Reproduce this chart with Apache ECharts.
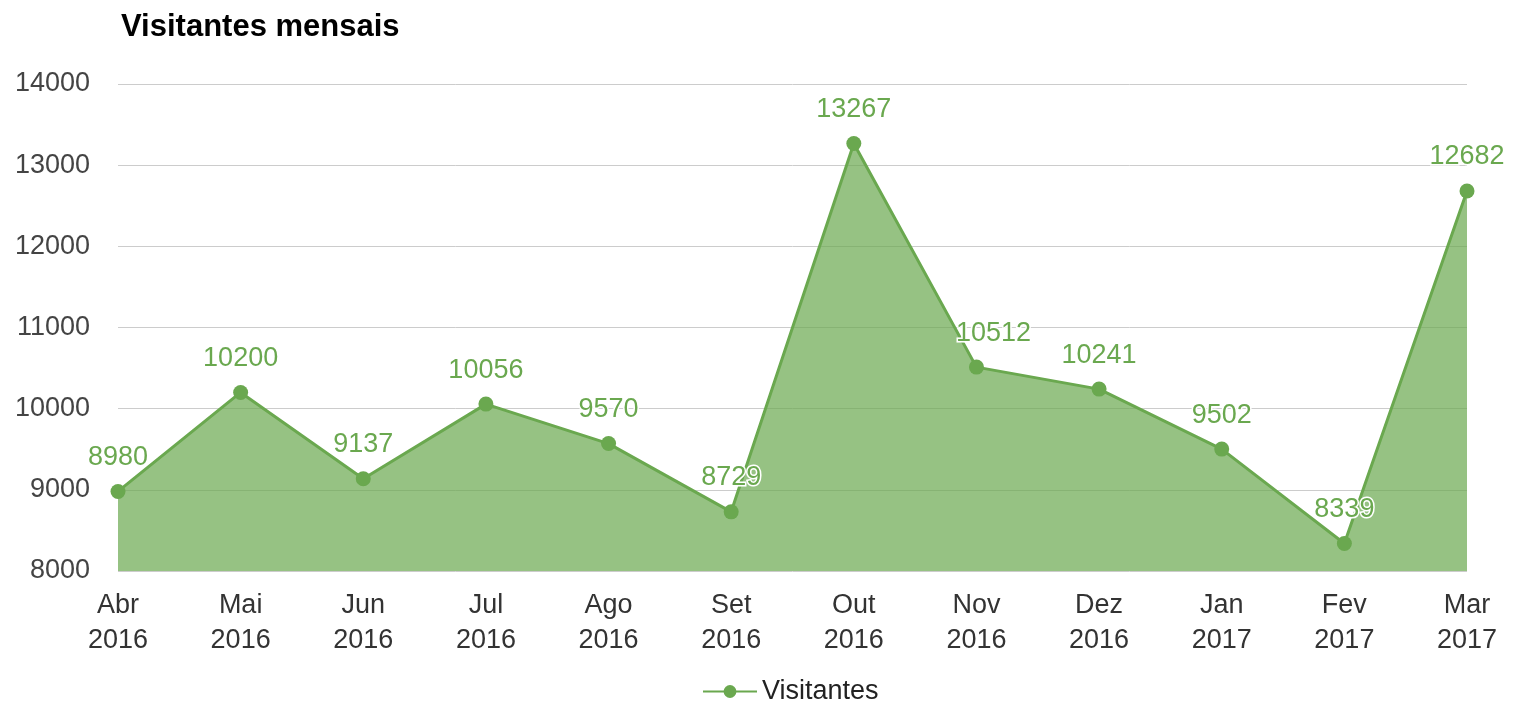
<!DOCTYPE html>
<html><head><meta charset="utf-8">
<script src="https://cdn.jsdelivr.net/npm/echarts@6/dist/echarts.min.js"></script>
<style>html,body{margin:0;padding:0;background:#fff}#c{width:1514px;height:702px}</style>
</head><body><div id="c"></div>
<script>
const months = ['Abr\n2016','Mai\n2016','Jun\n2016','Jul\n2016','Ago\n2016','Set\n2016','Out\n2016','Nov\n2016','Dez\n2016','Jan\n2017','Fev\n2017','Mar\n2017'];
const visitantes = [8980,10200,9137,10056,9570,8729,13267,10512,10241,9502,8339,12682];
const seriesName = 'Visitantes';
const chartTitle = 'Visitantes mensais';
const font = 'Liberation Sans, Arial, sans-serif';
const chart = echarts.init(document.getElementById('c'));
const seriesData = visitantes.map((v, i) => i === 7 ? {value: v, label: {offset: [17, 0]}} : v);
chart.setOption({
  animation:false,
  title:{text:chartTitle,left:116,top:7,textStyle:{fontFamily:font,fontSize:31,fontWeight:'bold',color:'#000'}},
  grid:{left:118,right:47,top:84,bottom:131,containLabel:false},
  legend:{top:673,left:697,itemWidth:54,itemHeight:16,itemGap:12,
    textStyle:{fontFamily:font,fontSize:27,color:'#222'},data:[seriesName]},
  xAxis:{type:'category',boundaryGap:false,data:months,
    axisLine:{show:false},axisTick:{show:false},
    axisLabel:{fontFamily:font,fontSize:27,color:'#333',lineHeight:35,margin:17}},
  yAxis:{type:'value',min:8000,max:14000,interval:1000,
    axisLine:{show:false},axisTick:{show:false},
    axisLabel:{fontFamily:font,fontSize:27,color:'#444',margin:28,padding:[5,0,0,0],formatter:v=>String(v)},
    splitLine:{lineStyle:{color:'#cccccc',width:1}}},
  series:[{name:seriesName,type:'line',data:seriesData,
    symbol:'circle',symbolSize:15,
    lineStyle:{color:'#6aa84f',width:3},
    itemStyle:{color:'#6aa84f'},
    areaStyle:{color:'#6aa84f',opacity:0.7},
    label:{show:true,position:'top',distance:13,fontFamily:font,fontSize:27,color:'#6aa84f',
      textBorderColor:'#fff',textBorderWidth:3}}]
});
</script></body></html>
